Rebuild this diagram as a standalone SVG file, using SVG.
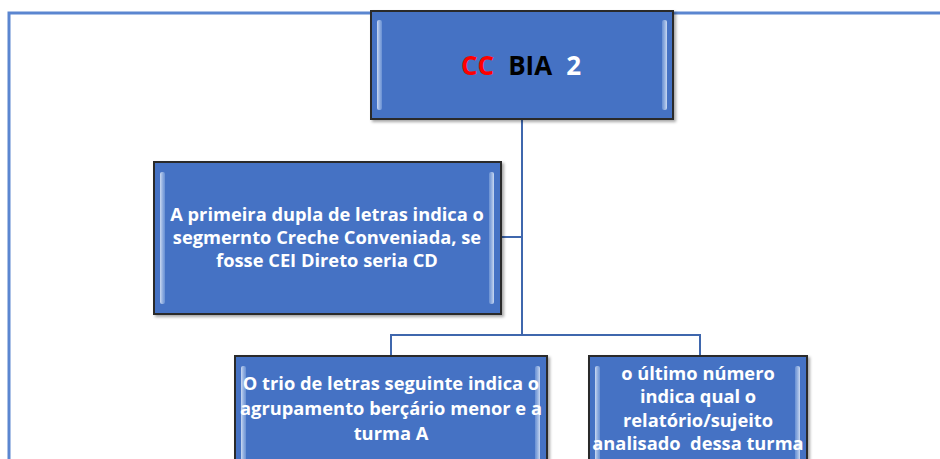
<svg xmlns="http://www.w3.org/2000/svg" width="940" height="459" viewBox="0 0 940 459">
<defs>
<linearGradient id="strip" x1="0" y1="0" x2="1" y2="0">
<stop offset="0" stop-color="#dbe6f7" stop-opacity="0.9"/>
<stop offset="1" stop-color="#8fb0e3" stop-opacity="0.5"/>
</linearGradient>
<linearGradient id="stripR" x1="0" y1="0" x2="1" y2="0">
<stop offset="0" stop-color="#8fb0e3" stop-opacity="0.5"/>
<stop offset="1" stop-color="#dbe6f7" stop-opacity="0.9"/>
</linearGradient>
<filter id="sh" x="-5%" y="-5%" width="115%" height="115%">
<feDropShadow dx="2" dy="2" stdDeviation="1.5" flood-color="#000" flood-opacity="0.35"/>
</filter>
</defs>
<style>
.box{fill:#4472c4;stroke:#2b2b2b;stroke-width:2;filter:url(#sh)}
.edge{fill:url(#strip)}
.edgeR{fill:url(#stripR)}
.conn{fill:none;stroke:#3f67ad;stroke-width:2}
.frame{fill:none;stroke:#5b86d0;stroke-width:3}
.t{font-family:"Open Sans","Liberation Sans",sans-serif;font-weight:bold;fill:#ffffff;text-anchor:middle}
</style>
<rect width="940" height="459" fill="#ffffff"/>
<path class="frame" d="M9 470 V13 H945"/>
<g id="connectors">
<path class="conn" d="M522 120 V335"/>
<path class="conn" d="M502 237 H522"/>
<path class="conn" d="M391 356 V335 H700 V356"/>
</g>
<g id="node-top">
<rect class="box" x="371" y="11" width="302" height="108"/>
<rect class="edge" x="377" y="20" width="5" height="90" rx="2"/>
<rect class="edgeR" x="662" y="20" width="5" height="90" rx="2"/>
<text x="521" y="75" font-family="'Open Sans','Liberation Sans',sans-serif" font-weight="bold" font-size="26" text-anchor="middle"><tspan fill="#ff0000">CC</tspan><tspan fill="#000000" dx="14">BIA</tspan><tspan fill="#ffffff" dx="14">2</tspan></text>
</g>
<g id="node-left">
<rect class="box" x="154" y="162" width="347" height="152"/>
<rect class="edge" x="160" y="172" width="5" height="132" rx="2"/>
<rect class="edgeR" x="489" y="172" width="5" height="132" rx="2"/>
<text class="t" font-size="18.3"><tspan x="327" y="221">A primeira dupla de letras indica o</tspan><tspan x="327" y="244">segmernto Creche Conveniada, se</tspan><tspan x="327" y="267">fosse CEI Direto seria CD</tspan></text>
</g>
<g id="node-bottom-left">
<rect class="box" x="235" y="356" width="312" height="120"/>
<rect class="edge" x="241" y="366" width="5" height="100" rx="2"/>
<rect class="edgeR" x="535" y="366" width="5" height="100" rx="2"/>
<text class="t" font-size="18.3"><tspan x="391" y="390">O trio de letras seguinte indica o</tspan><tspan x="391" y="415">agrupamento berçário menor e a</tspan><tspan x="391" y="440">turma A</tspan></text>
</g>
<g id="node-bottom-right">
<rect class="box" x="589" y="356" width="218" height="120"/>
<rect class="edge" x="595" y="366" width="5" height="100" rx="2"/>
<rect class="edgeR" x="795" y="366" width="5" height="100" rx="2"/>
<text class="t" font-size="18.3" xml:space="preserve"><tspan x="698" y="380">o último número</tspan><tspan x="698" y="403">indica qual o</tspan><tspan x="698" y="427">relatório/sujeito</tspan><tspan x="698" y="450">analisado  dessa turma</tspan></text>
</g>
</svg>
